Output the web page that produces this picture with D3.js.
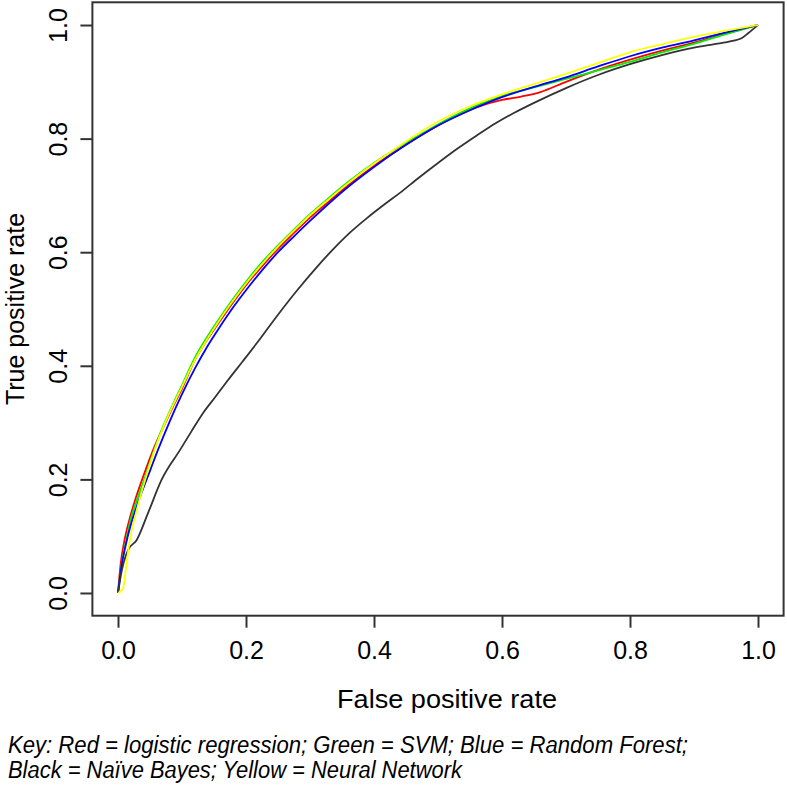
<!DOCTYPE html>
<html>
<head>
<meta charset="utf-8">
<script src="https://cdn.jsdelivr.net/npm/d3@7"></script>
<style>
  body { margin: 0; background: #fff; }
  svg { display: block; font-family: "Liberation Sans", Arial, Helvetica, sans-serif; }
</style>
</head>
<body>
<div id="chart"></div>
<script>
// ROC curves (false positive rate, true positive rate)
var fprRed = [0, .004, .01, .018, .028, .04, .055, .07, .085, .1, .12, .14, .16, .18, .2, .225, .25, .275, .3, .33, .36, .4, .44, .48, .52, .56, .6, .63, .66, .7, .75, .8, .85, .9, .95, 1];
var tprRed = [0, .05, .092, .13, .168, .207, .252, .29, .326, .36, .41, .447, .48, .512, .542, .575, .606, .634, .661, .69, .718, .752, .782, .81, .835, .855, .868, .874, .882, .9, .921, .939, .955, .969, .985, 1];

var fprGreen = [0, .005, .012, .02, .03, .042, .056, .07, .085, .1, .12, .14, .16, .18, .2, .225, .25, .275, .3, .33, .36, .4, .44, .48, .52, .56, .6, .65, .7, .75, .8, .85, .9, .95, 1];
var tprGreen = [0, .045, .088, .13, .165, .203, .25, .292, .33, .366, .414, .452, .486, .518, .548, .582, .612, .64, .667, .696, .724, .757, .786, .812, .837, .858, .875, .89, .905, .92, .935, .952, .967, .984, 1];

var fprBlue = [0, .005, .012, .02, .03, .04, .05, .06, .07, .08, .1, .12, .14, .16, .18, .2, .225, .25, .275, .3, .35, .4, .45, .5, .55, .6, .65, .7, .75, .8, .85, .9, .95, 1];
var tprBlue = [0, .044, .084, .12, .155, .186, .215, .245, .273, .3, .35, .395, .435, .47, .503, .533, .568, .6, .628, .655, .706, .75, .789, .823, .85, .873, .891, .908, .927, .945, .96, .973, .987, 1];

var fprBlack = [0, .006, .012, .017, .029, .047, .068, .097, .115, .133, .152, .172, .195, .217, .25, .28, .31, .336, .362, .389, .415, .44, .47, .5, .53, .56, .59, .62, .65, .7, .75, .8, .85, .9, .93, .96, .975, .985, 1];
var tprBlack = [0, .04, .065, .078, .093, .141, .199, .252, .285, .317, .345, .375, .408, .44, .49, .533, .573, .605, .634, .66, .683, .704, .731, .757, .782, .805, .827, .846, .863, .889, .912, .931, .947, .96, .966, .972, .977, .986, 1];

var fprYellow = [0, .008, .012, .018, .028, .042, .056, .07, .085, .1, .12, .14, .16, .18, .2, .225, .25, .275, .3, .33, .36, .4, .45, .5, .55, .6, .65, .7, .75, .8, .85, .9, .95, 1];
var tprYellow = [0, .008, .04, .09, .14, .198, .248, .29, .328, .363, .41, .448, .483, .515, .545, .579, .61, .638, .665, .694, .722, .756, .795, .83, .857, .878, .896, .914, .933, .952, .966, .979, .99, 1];

var seriesNames = ["red", "green", "blue", "black", "yellow"];
var seriesColors = ["#ff0000", "#00ee00", "#0000ff", "#333333", "#ffff00"];
var seriesFpr = [fprRed, fprGreen, fprBlue, fprBlack, fprYellow];
var seriesTpr = [tprRed, tprGreen, tprBlue, tprBlack, tprYellow];

var tickValues = [0, 0.2, 0.4, 0.6, 0.8, 1.0];
var xTitle = "False positive rate";
var yTitle = "True positive rate";
var keyLines = [
  "Key: Red = logistic regression; Green = SVM; Blue = Random Forest;",
  "Black = Na\u00efve Bayes; Yellow = Neural Network"
];

var width = 787, height = 792;
var svg = d3.select("#chart").append("svg")
  .attr("width", width)
  .attr("height", height);

// R style: data range padded 4% each side
var x = d3.scaleLinear().domain([-0.04, 1.04]).range([92.4, 783.6]);
var y = d3.scaleLinear().domain([-0.04, 1.04]).range([615.7, 2.3]);
var axisColor = "#333";

// curves
var line = d3.line()
  .x(function (d) { return x(d[0]); })
  .y(function (d) { return y(d[1]); })
  .curve(d3.curveMonotoneX);

seriesNames.forEach(function (name, i) {
  var pts = seriesFpr[i].map(function (f, j) { return [f, seriesTpr[i][j]]; });
  svg.append("path")
    .datum(pts)
    .attr("class", "roc-" + name)
    .attr("d", line)
    .attr("fill", "none")
    .attr("stroke", seriesColors[i])
    .attr("stroke-width", 1.8)
    .attr("stroke-linejoin", "round");
});

// box
svg.append("rect")
  .attr("x", x(-0.04))
  .attr("y", y(1.04))
  .attr("width", x(1.04) - x(-0.04))
  .attr("height", y(-0.04) - y(1.04))
  .attr("fill", "none")
  .attr("stroke", axisColor)
  .attr("stroke-width", 2);

// x axis
var xAxis = d3.axisBottom(x)
  .tickValues(tickValues)
  .tickFormat(d3.format(".1f"))
  .tickSize(12)
  .tickPadding(14);
var gx = svg.append("g")
  .attr("transform", "translate(0," + y(-0.04) + ")")
  .call(xAxis);
gx.select(".domain").remove();
gx.selectAll("line").attr("stroke", axisColor).attr("stroke-width", 2);
gx.selectAll("text")
  .attr("fill", "#000")
  .style("font-size", "25px")
  .style("font-family", "'Liberation Sans', Arial, sans-serif");

// y axis, labels parallel to the axis
var yAxis = d3.axisLeft(y)
  .tickValues(tickValues)
  .tickFormat(d3.format(".1f"))
  .tickSize(12);
var gy = svg.append("g")
  .attr("transform", "translate(" + x(-0.04) + ",0)")
  .call(yAxis);
gy.select(".domain").remove();
gy.selectAll("line").attr("stroke", axisColor).attr("stroke-width", 2);
gy.selectAll("text")
  .attr("fill", "#000")
  .attr("transform", "rotate(-90)")
  .attr("x", 0)
  .attr("y", -25)
  .attr("dy", 0)
  .style("text-anchor", "middle")
  .style("font-size", "25px")
  .style("font-family", "'Liberation Sans', Arial, sans-serif");

// axis titles
svg.append("text")
  .attr("x", 447)
  .attr("y", 708)
  .attr("text-anchor", "middle")
  .style("font-size", "25px")
  .attr("textLength", 220)
  .attr("lengthAdjust", "spacingAndGlyphs")
  .text(xTitle);

svg.append("text")
  .attr("transform", "translate(24," + 309 + ") rotate(-90)")
  .attr("text-anchor", "middle")
  .style("font-size", "25px")
  .text(yTitle);

// key below the chart
var keyLengths = [680, 454];
keyLines.forEach(function (t, i) {
  svg.append("text")
    .attr("x", 8)
    .attr("y", 753 + i * 25)
    .style("font-size", "23px")
    .style("font-style", "italic")
    .attr("textLength", keyLengths[i])
    .attr("lengthAdjust", "spacingAndGlyphs")
    .text(t);
});
</script>
</body>
</html>
